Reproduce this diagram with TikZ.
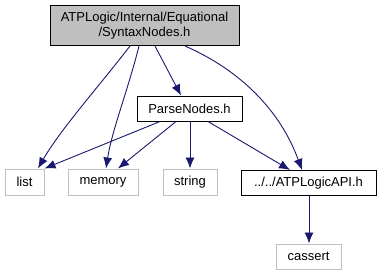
\documentclass[tikz,border=0pt]{standalone}
\usepackage{fontspec}
\setmainfont{Liberation Sans}
\usetikzlibrary{arrows.meta}
\definecolor{edgeblue}{HTML}{191970}
\definecolor{rootgray}{HTML}{BFBFBF}
\definecolor{extgray}{HTML}{BFBFBF}
\tikzset{
  filebox/.style={draw=black, line width=1pt, fill=white, inner sep=0pt, font=\fontsize{13}{15}\selectfont},
  extbox/.style={draw=extgray, line width=1pt, fill=white, inner sep=0pt, font=\fontsize{13}{15}\selectfont},
  dep/.style={draw=edgeblue, line width=0.9pt, -{Latex[length=11pt,width=9pt]}},
}
\begin{document}
\begin{tikzpicture}[x=1pt,y=-1pt]
\useasboundingbox (0,0) rectangle (381,276);
\fill[white] (0,0) rectangle (381,276);
% header node and its includes
\node[filebox, fill=rootgray, minimum width=189pt, minimum height=40pt, align=center] (root) at (144.5,25.5) {ATPLogic/Internal/Equational\\/SyntaxNodes.h};
\node[filebox, minimum width=105pt, minimum height=25pt] (parse) at (189.5,108.5) {ParseNodes.h};
\node[extbox, minimum width=39pt, minimum height=26pt] (list) at (24.5,182) {list};
\node[extbox, minimum width=70pt, minimum height=26pt] (memory) at (103,182) {memory};
\node[extbox, minimum width=54pt, minimum height=26pt] (string) at (190,182) {string};
\node[filebox, minimum width=135pt, minimum height=25pt] (api) at (308.5,183) {../../ATPLogicAPI.h};
\node[extbox, minimum width=65pt, minimum height=25pt] (cassert) at (308.5,256.5) {cassert};
% include edges
\draw[dep] (root.south -| 130,0) .. controls (100,85) and (60,130) .. (list.north -| 38,0);
\draw[dep] (root.south -| 139,0) .. controls (128,90) and (112,130) .. (memory.north -| 106,0);
\draw[dep] (root.south -| 155,0) -- (parse.north -| 181,0);
\draw[dep] (root.south -| 185,0) .. controls (240,70) and (280,110) .. (api.north -| 302,0);
\draw[dep] (parse.south -| 160,0) -- (list.north east);
\draw[dep] (parse.south -| 176,0) -- (memory.north -| 118,0);
\draw[dep] (parse.south -| 190,0) -- (string.north -| 190,0);
\draw[dep] (parse.south -| 208,0) -- (api.north -| 290,0);
\draw[dep] (api.south -| 309,0) -- (cassert.north -| 309,0);
\end{tikzpicture}
\end{document}
